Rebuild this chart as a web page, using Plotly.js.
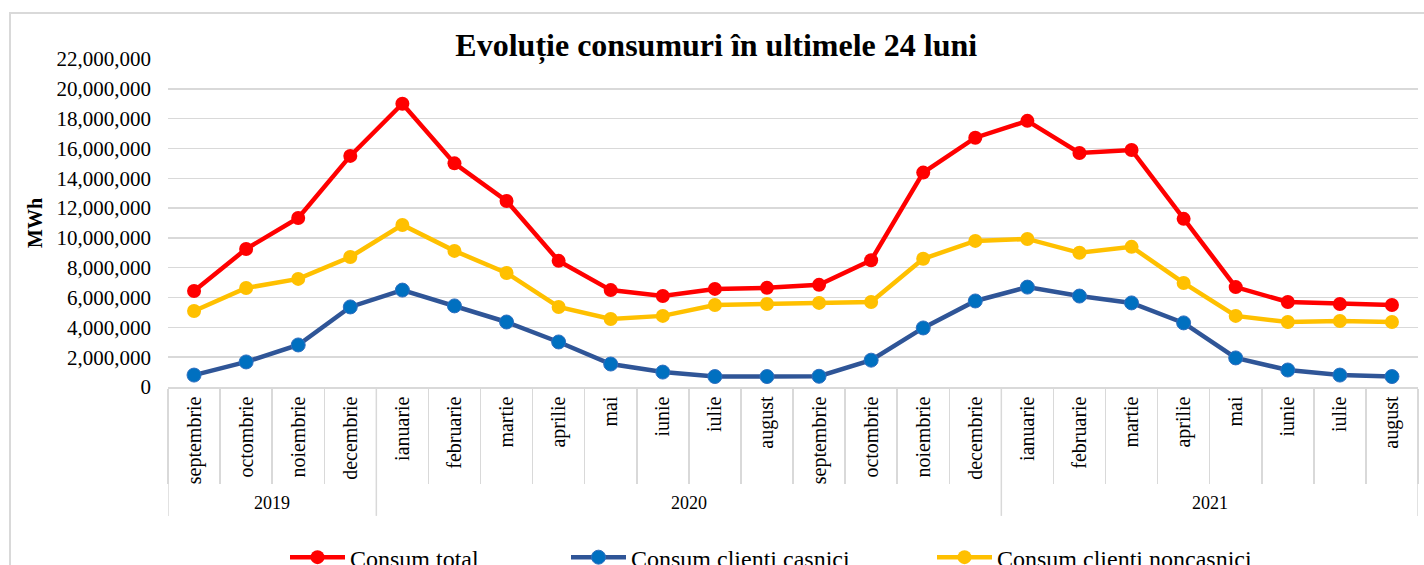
<!DOCTYPE html>
<html>
<head>
<meta charset="utf-8">
<script src="https://cdn.plot.ly/plotly-3.0.1.min.js"></script>
<style>html,body{margin:0;padding:0;background:#fff;}#chart{width:1424px;height:565px;}</style>
</head>
<body>
<div id="chart"></div>
<script>
const months = ['septembrie','octombrie','noiembrie','decembrie','ianuarie','februarie','martie','aprilie','mai','iunie','iulie','august',
                'septembrie','octombrie','noiembrie','decembrie','ianuarie','februarie','martie','aprilie','mai','iunie','iulie','august'];
const years = ['2019','2019','2019','2019',
               '2020','2020','2020','2020','2020','2020','2020','2020','2020','2020','2020','2020',
               '2021','2021','2021','2021','2021','2021','2021','2021'];
const consumTotal = [6440000,9260000,11340000,15500000,19000000,15000000,12480000,8460000,6500000,6100000,6580000,6650000,
                     6850000,8500000,14380000,16720000,17850000,15700000,15900000,11280000,6700000,5700000,5570000,5500000];
const consumCasnici = [800000,1680000,2820000,5370000,6500000,5440000,4360000,3020000,1540000,1000000,700000,700000,
                       720000,1800000,3960000,5770000,6700000,6100000,5640000,4300000,1950000,1140000,800000,700000];
const consumNoncasnici = [5100000,6640000,7250000,8720000,10870000,9130000,7650000,5370000,4560000,4770000,5500000,5570000,
                          5640000,5700000,8600000,9800000,9930000,9000000,9400000,6980000,4770000,4360000,4430000,4360000];
const seriesNames = ['Consum total','Consum clienti casnici','Consum clienti noncasnici'];

const serif = '"Liberation Serif", "Times New Roman", serif';
const idx = months.map((m, i) => i);

const traces = [
  {x: idx, y: consumTotal, name: seriesNames[0], type: 'scatter', mode: 'lines+markers', legend: 'legend',
   line: {color: '#FF0000', width: 4.5}, marker: {color: '#FF0000', size: 14}},
  {x: idx, y: consumCasnici, name: seriesNames[1], type: 'scatter', mode: 'lines+markers', legend: 'legend2',
   line: {color: '#2F5597', width: 4.5}, marker: {color: '#0070C0', size: 14, line: {color: '#2F6FC0', width: 1}}},
  {x: idx, y: consumNoncasnici, name: seriesNames[2], type: 'scatter', mode: 'lines+markers', legend: 'legend3',
   line: {color: '#FFC000', width: 4.5}, marker: {color: '#FFC000', size: 14}}
];

// year groups: separators and labels
const groups = [];
years.forEach((y, i) => {
  if (i === 0 || years[i - 1] !== y) groups.push({year: y, start: i, end: i});
  else groups[groups.length - 1].end = i;
});
const gridCol = '#D9D9D9';
const shapes = [
  {type: 'rect', xref: 'paper', yref: 'paper', x0: -0.1264, x1: 1.01, y0: -0.7, y1: 1.1402,
   line: {color: gridCol, width: 2}, fillcolor: 'rgba(0,0,0,0)', layer: 'below'}
];
const annotations = [];
groups.forEach((g, k) => {
  shapes.push({type: 'line', xref: 'x', yref: 'paper', x0: g.start - 0.5, x1: g.start - 0.5, y0: 0, y1: -0.393,
               line: {color: gridCol, width: 1.5}});
  if (k === groups.length - 1)
    shapes.push({type: 'line', xref: 'x', yref: 'paper', x0: g.end + 0.5, x1: g.end + 0.5, y0: 0, y1: -0.393,
                 line: {color: gridCol, width: 1.5}});
  annotations.push({xref: 'x', yref: 'paper', x: (g.start + g.end) / 2, y: -0.354, text: g.year, showarrow: false,
                    xanchor: 'center', yanchor: 'middle', font: {family: serif, size: 18, color: '#000'}});
});

const legendBase = {orientation: 'h', xanchor: 'left', y: -0.52, yanchor: 'middle',
                    font: {family: serif, size: 24, color: '#000'}, itemwidth: 55, bgcolor: 'rgba(0,0,0,0)'};

const layout = {
  width: 1424, height: 565,
  margin: {l: 168, r: 6, t: 59, b: 178, autoexpand: false},
  paper_bgcolor: '#ffffff', plot_bgcolor: '#ffffff',
  font: {family: serif, color: '#000000', size: 20},
  title: {text: '<b>Evoluție consumuri în ultimele 24 luni</b>', font: {family: serif, size: 32, color: '#000'},
          x: 0.503, xanchor: 'center', y: 0.921, yanchor: 'middle'},
  showlegend: true,
  legend: Object.assign({}, legendBase, {x: 0.0936}),
  legend2: Object.assign({}, legendBase, {x: 0.3184}),
  legend3: Object.assign({}, legendBase, {x: 0.6112}),
  xaxis: {type: 'linear', range: [-0.5, months.length - 0.5], tickmode: 'array', tickvals: idx, ticktext: months,
          tickangle: -90, ticks: '', showline: true, linecolor: gridCol, linewidth: 1.5, showgrid: false, zeroline: false,
          minor: {ticks: 'outside', tick0: -0.5, dtick: 1, ticklen: 95, tickcolor: gridCol, tickwidth: 1.5, showgrid: false},
          tickfont: {family: serif, size: 20, color: '#000'}},
  yaxis: {range: [0, 22000000], dtick: 2000000, tickformat: ',d', showgrid: true, gridcolor: gridCol, gridwidth: 1.5,
          zeroline: false, showline: false, ticks: '', ticklabelstandoff: 16,
          tickfont: {family: serif, size: 21, color: '#000'},
          title: {text: '<b>MWh</b>', font: {family: serif, size: 20, color: '#000'}, standoff: 8}},
  shapes: shapes,
  annotations: annotations
};

Plotly.newPlot('chart', traces, layout, {displayModeBar: false, staticPlot: true});
</script>
</body>
</html>
